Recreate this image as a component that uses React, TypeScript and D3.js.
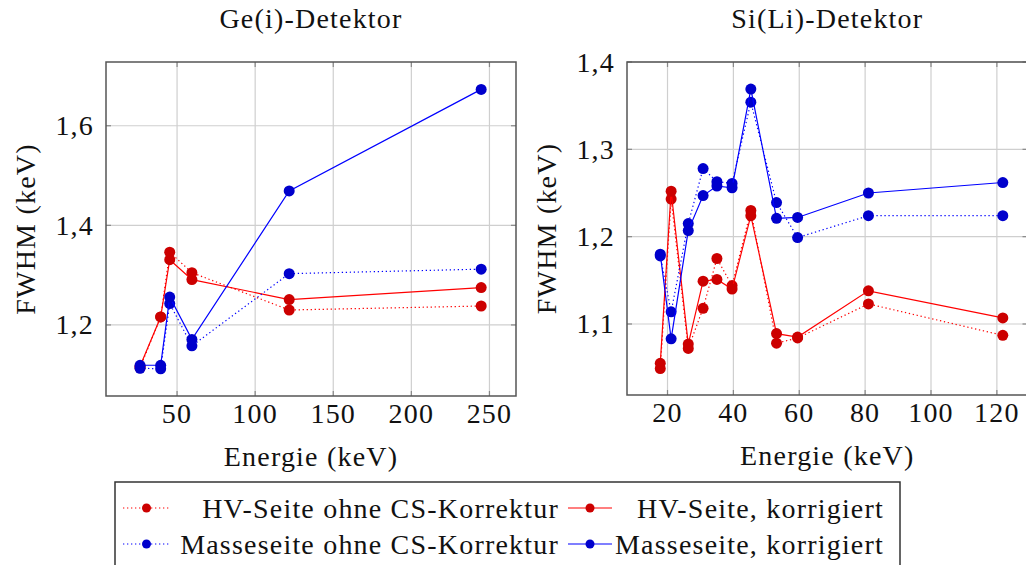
import * as d3 from "d3";

// Ge(i) detector
const geEnergy = [26.3, 39.5, 45.3, 59.5, 121.8, 244.7];
const geHvOhne = [1.114, 1.216, 1.346, 1.305, 1.230, 1.238];
const geHvKorr = [1.117, 1.216, 1.331, 1.291, 1.251, 1.275];
const geMasseOhne = [1.113, 1.112, 1.243, 1.158, 1.303, 1.312];
const geMasseKorr = [1.119, 1.119, 1.256, 1.171, 1.469, 1.673];
const geXTicks = [50, 100, 150, 200, 250];
const geYTicks = [1.2, 1.4, 1.6];

// Si(Li) detector
const siEnergy = [17.8, 21.1, 26.3, 30.8, 35.0, 39.6, 45.3, 53.1, 59.5, 81.0, 121.8];
const siHvOhne = [1.049, 1.243, 1.072, 1.118, 1.175, 1.144, 1.230, 1.078, 1.084, 1.123, 1.087];
const siHvKorr = [1.055, 1.252, 1.077, 1.149, 1.151, 1.140, 1.224, 1.089, 1.085, 1.138, 1.107];
const siMasseOhne = [1.178, 1.114, 1.215, 1.278, 1.263, 1.261, 1.354, 1.239, 1.199, 1.224, 1.224];
const siMasseKorr = [1.180, 1.083, 1.207, 1.247, 1.258, 1.256, 1.369, 1.221, 1.222, 1.250, 1.262];
const siXTicks = [20, 40, 60, 80, 100, 120];
const siYTicks = [1.1, 1.2, 1.3, 1.4];

const legendLabels = [
  "HV-Seite ohne CS-Korrektur",
  "HV-Seite, korrigiert",
  "Masseseite ohne CS-Korrektur",
  "Masseseite, korrigiert",
];

const FONT = "Liberation Serif, DejaVu Serif, serif";
const FS = 28;
const LS = "1.2px";

const styles = [
  { line: "#ff0000", mark: "#cc0000", dash: "1.3 2.7" },
  { line: "#ff0000", mark: "#cc0000", dash: null },
  { line: "#0000ff", mark: "#0000cc", dash: "1.3 2.7" },
  { line: "#0000ff", mark: "#0000cc", dash: null },
];

const fmt = (v: number) => d3.format(".1f")(v).replace(".", ",");

const textStyle = { fontFamily: FONT, fontSize: FS, letterSpacing: LS };

type PanelProps = {
  title: string;
  x0: number;
  x1: number;
  y0: number;
  y1: number;
  xDomain: [number, number];
  yDomain: [number, number];
  xTicks: number[];
  yTicks: number[];
  energy: number[];
  series: number[][];
  yLabelX: number;
};

function Panel(p: PanelProps) {
  const x = d3.scaleLinear().domain(p.xDomain).range([p.x0, p.x1]);
  const y = d3.scaleLinear().domain(p.yDomain).range([p.y1, p.y0]);
  const line = d3
    .line<number>()
    .x((_, i) => x(p.energy[i]))
    .y((v) => y(v));
  const cx = (p.x0 + p.x1) / 2;
  const cy = (p.y0 + p.y1) / 2;
  const tl = 5;
  return (
    <g>
      <defs>
        <clipPath id={"clip-" + p.x0}>
          <rect x={p.x0} y={p.y0} width={p.x1 - p.x0} height={p.y1 - p.y0} />
        </clipPath>
      </defs>
      {/* grid */}
      {p.xTicks.map((t) => (
        <line key={"gx" + t} x1={x(t)} x2={x(t)} y1={p.y0} y2={p.y1} stroke="#cfcfcf" strokeWidth={1.2} />
      ))}
      {p.yTicks.map((t) => (
        <line key={"gy" + t} x1={p.x0} x2={p.x1} y1={y(t)} y2={y(t)} stroke="#cfcfcf" strokeWidth={1.2} />
      ))}
      {/* ticks */}
      {p.xTicks.map((t) => (
        <g key={"tx" + t} stroke="#888" strokeWidth={1.2}>
          <line x1={x(t)} x2={x(t)} y1={p.y1} y2={p.y1 - tl} />
          <line x1={x(t)} x2={x(t)} y1={p.y0} y2={p.y0 + tl} />
        </g>
      ))}
      {p.yTicks.map((t) => (
        <g key={"ty" + t} stroke="#888" strokeWidth={1.2}>
          <line x1={p.x0} x2={p.x0 + tl} y1={y(t)} y2={y(t)} />
          <line x1={p.x1} x2={p.x1 - tl} y1={y(t)} y2={y(t)} />
        </g>
      ))}
      {/* data */}
      <g clipPath={`url(#clip-${p.x0})`}>
        {p.series.map((s, k) => (
          <g key={"s" + k}>
            <path
              d={line(s) || ""}
              fill="none"
              stroke={styles[k].line}
              strokeWidth={1.2}
              strokeDasharray={styles[k].dash || undefined}
            />
            {s.map((v, i) => (
              <circle key={i} cx={x(p.energy[i])} cy={y(v)} r={5.5} fill={styles[k].mark} />
            ))}
          </g>
        ))}
      </g>
      <rect x={p.x0} y={p.y0} width={p.x1 - p.x0} height={p.y1 - p.y0} fill="none" stroke="#555" strokeWidth={1.5} />
      {/* labels */}
      <g fill="#111" style={textStyle}>
        {p.xTicks.map((t) => (
          <text key={"lx" + t} x={x(t)} y={p.y1 + 27} textAnchor="middle">
            {t}
          </text>
        ))}
        {p.yTicks.map((t) => (
          <text key={"ly" + t} x={p.x0 - 12} y={y(t)} textAnchor="end" dominantBaseline="central">
            {fmt(t)}
          </text>
        ))}
        <text x={cx} y={28} textAnchor="middle">
          {p.title}
        </text>
        <text x={cx} y={p.y1 + 70} textAnchor="middle">
          Energie (keV)
        </text>
        <text
          x={p.yLabelX}
          y={cy}
          textAnchor="middle"
          dominantBaseline="central"
          transform={`rotate(-90 ${p.yLabelX} ${cy})`}
        >
          FWHM (keV)
        </text>
      </g>
    </g>
  );
}

function Legend() {
  const boxX = 115;
  const boxY = 482;
  const rows = [508, 544];
  const cols = [
    { lx0: 123, lx1: 170, mx: 146.5, tx: 559 },
    { lx0: 568, lx1: 612, mx: 590, tx: 884 },
  ];
  return (
    <g>
      <rect x={boxX} y={boxY} width={785} height={100} fill="#fff" stroke="#333" strokeWidth={1.5} />
      {legendLabels.map((lab, i) => {
        const r = rows[Math.floor(i / 2)];
        const c = cols[i % 2];
        const st = styles[i];
        return (
          <g key={lab}>
            <line
              x1={c.lx0}
              x2={c.lx1}
              y1={r}
              y2={r}
              stroke={st.line}
              strokeWidth={1.2}
              strokeDasharray={st.dash || undefined}
            />
            <circle cx={c.mx} cy={r} r={4.5} fill={st.mark} />
            <text x={c.tx} y={r} textAnchor="end" dominantBaseline="central" fill="#111" style={textStyle}>
              {lab}
            </text>
          </g>
        );
      })}
    </g>
  );
}

export default function App() {
  return (
    <svg
      width={1026}
      height={565}
      style={{ position: "absolute", left: 0, top: 0, background: "#fff" }}
    >
      <rect width={1026} height={565} fill="#fff" />
      <Panel
        title="Ge(i)-Detektor"
        x0={106}
        x1={516}
        y0={62}
        y1={396}
        xDomain={[4.5, 267]}
        yDomain={[1.0573, 1.728]}
        xTicks={geXTicks}
        yTicks={geYTicks}
        energy={geEnergy}
        series={[geHvOhne, geHvKorr, geMasseOhne, geMasseKorr]}
        yLabelX={25}
      />
      <Panel
        title="Si(Li)-Detektor"
        x0={627}
        x1={1027.5}
        y0={62}
        y1={395}
        xDomain={[7.7, 129.3]}
        yDomain={[1.0187, 1.4]}
        xTicks={siXTicks}
        yTicks={siYTicks}
        energy={siEnergy}
        series={[siHvOhne, siHvKorr, siMasseOhne, siMasseKorr]}
        yLabelX={546}
      />
      <Legend />
    </svg>
  );
}
